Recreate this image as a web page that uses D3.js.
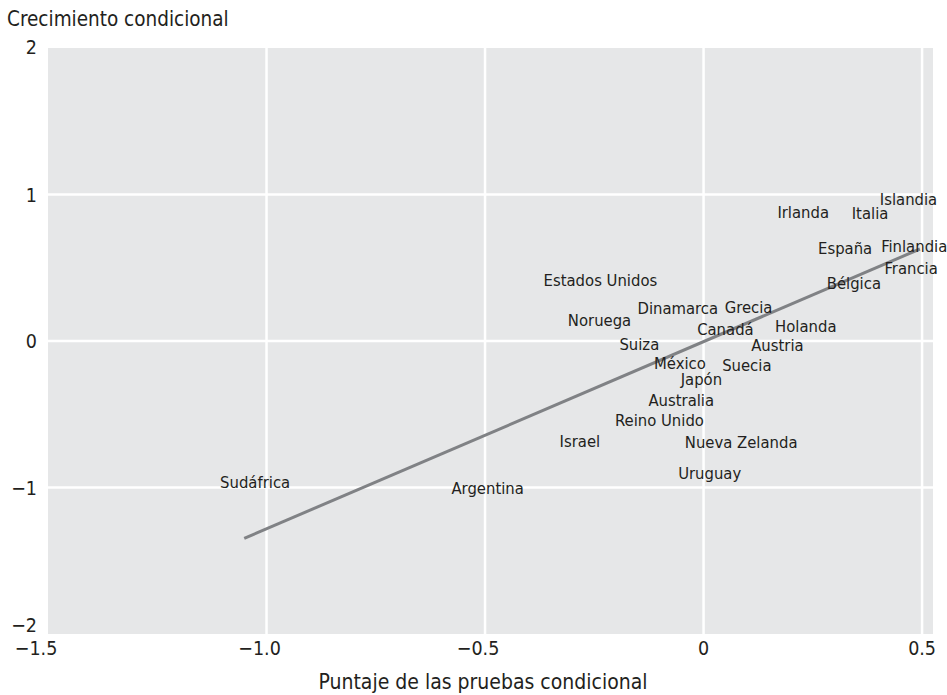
<!DOCTYPE html>
<html><head><meta charset="utf-8">
<script src="https://cdn.jsdelivr.net/npm/d3@7"></script>
<style>
html,body{margin:0;padding:0;background:#fff;}
text{font-family:"DejaVu Sans Condensed","DejaVu Sans",sans-serif;fill:#231f20;}
</style></head>
<body><svg id="c" width="947" height="695"></svg>
<script>
const countries = ["Islandia","Italia","Irlanda","España","Finlandia","Francia","Bélgica","Estados Unidos","Dinamarca","Grecia","Noruega","Canadá","Holanda","Suiza","Austria","México","Suecia","Japón","Australia","Reino Unido","Israel","Nueva Zelanda","Uruguay","Sudáfrica","Argentina"];
const testScore = [0.469,0.381,0.228,0.324,0.482,0.475,0.344,-0.236,-0.059,0.103,-0.238,0.050,0.234,-0.147,0.169,-0.054,0.099,-0.005,-0.051,-0.101,-0.283,0.086,0.014,-1.026,-0.494];
const growth = [0.97,0.874,0.88,0.635,0.648,0.498,0.396,0.416,0.225,0.232,0.143,0.082,0.102,-0.02,-0.027,-0.15,-0.164,-0.26,-0.403,-0.539,-0.683,-0.689,-0.901,-0.962,-1.003];
const fitX = [-1.051, 0.495];
const fitY = [-1.347, 0.628];
const xTicks = [-1.5,-1.0,-0.5,0,0.5];
const xTickLabels = ["\u22121.5","\u22121.0","\u22120.5","0","0.5"];
const yTicks = [-2,-1,0,1,2];
const yTickLabels = ["\u22122","\u22121","0","1","2"];
const xTitle = "Puntaje de las pruebas condicional";
const yTitle = "Crecimiento condicional";

const svg = d3.select("#c");
const L=48,R=933,T=48,B=634;
const x = d3.scaleLinear().domain([-1.5,0.525]).range([L,R]);
const y = d3.scaleLinear().domain([-2,2]).range([B,T]);

svg.append("rect").attr("x",L).attr("y",T).attr("width",R-L).attr("height",B-T).attr("fill","#e6e7e8");

const g = svg.append("g");
g.selectAll("line.vx").data(xTicks.filter(d=>d>-1.5)).enter().append("line")
 .attr("x1",d=>x(d)).attr("x2",d=>x(d)).attr("y1",T).attr("y2",B)
 .attr("stroke","#fff").attr("stroke-width",2.5);
g.selectAll("line.hy").data(yTicks.filter(d=>d>-2&&d<2)).enter().append("line")
 .attr("x1",L).attr("x2",R).attr("y1",d=>y(d)).attr("y2",d=>y(d))
 .attr("stroke","#fff").attr("stroke-width",2.5);

// fitted line
svg.append("line").attr("x1",x(fitX[0])).attr("y1",y(fitY[0])).attr("x2",x(fitX[1])).attr("y2",y(fitY[1]))
 .attr("stroke","#808285").attr("stroke-width",3);

// labels
svg.selectAll("text.lab").data(countries).enter().append("text")
 .attr("x",(d,i)=>x(testScore[i])).attr("y",(d,i)=>y(growth[i]))
 .attr("dy","0.36em").attr("text-anchor","middle").attr("font-size",16.5)
 .text(d=>d);

// x tick labels
svg.selectAll("text.xt").data(xTicks).enter().append("text")
 .attr("x",(d,i)=> i===0 ? x(d)-12 : (d<0 ? x(d)-7 : x(d))).attr("y",655).attr("text-anchor","middle").attr("font-size",19.5)
 .text((d,i)=>xTickLabels[i]);
// y tick labels
svg.selectAll("text.yt").data(yTicks).enter().append("text")
 .attr("x",37).attr("y",(d,i)=> i===0 ? y(d)-2 : (i===4 ? y(d)+6 : y(d)+7)).attr("text-anchor","end").attr("font-size",19.5)
 .text((d,i)=>yTickLabels[i]);

svg.append("text").attr("x",7).attr("y",26).attr("font-size",20.5).text(yTitle);
svg.append("text").attr("x",483).attr("y",689).attr("text-anchor","middle").attr("font-size",21).text(xTitle);
</script></body></html>
